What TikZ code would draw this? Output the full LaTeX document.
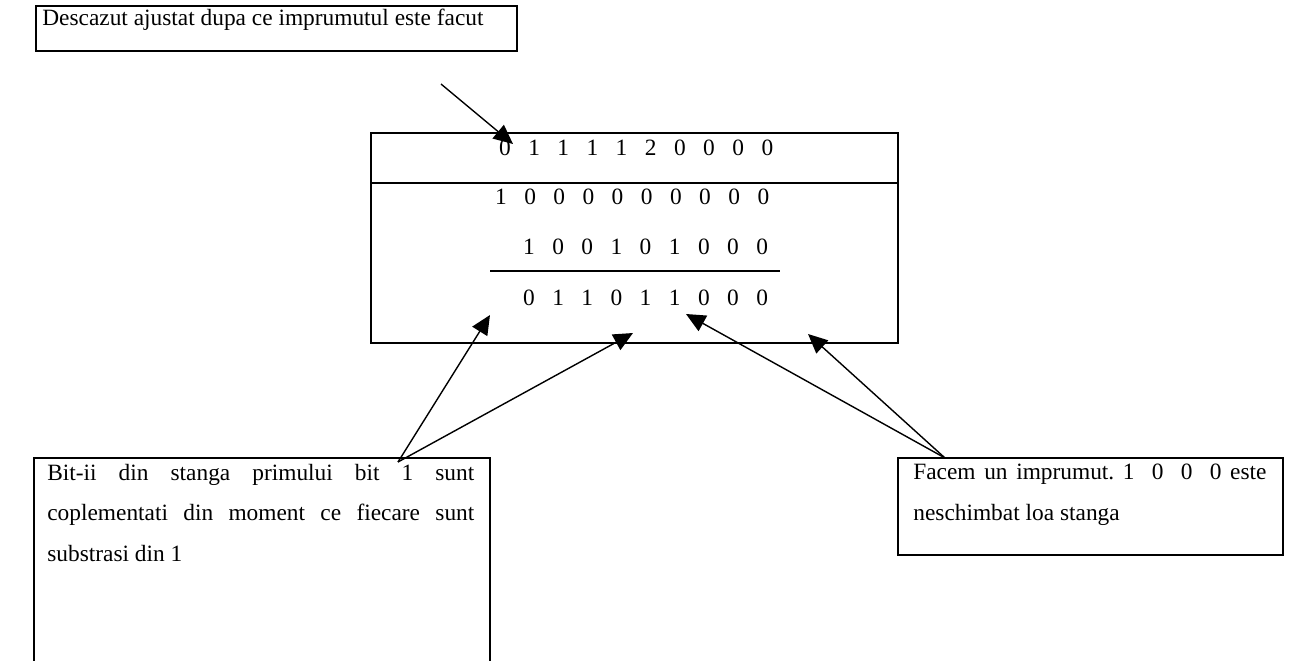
\documentclass[tikz,border=0pt]{standalone}
\usepackage{fontspec}
\setmainfont{Liberation Serif}
\usetikzlibrary{arrows.meta,fit}
\newcommand\dg[1]{\makebox[16.6pt]{#1}}
\begin{document}
\begin{tikzpicture}[x=0.02cm,y=-0.02cm,
  box/.style={draw,line width=1.1pt,inner sep=0pt},
  lbl/.style={inner sep=0pt,font=\fontsize{13.3}{23}\selectfont\frenchspacing},
  arr/.style={line width=0.8pt,-{Triangle[length=11pt,width=10pt]}}]
\useasboundingbox (0,0) rectangle (1291,660);
% boxes
\node[box,fit={(36,6) (517,51)}] (top) {};
\node[box,fit={(371,133) (898,343)}] (main) {};
\node[box,fit={(34,458) (490,668)}] (lbox) {};
\node[box,fit={(898,458) (1283,555)}] (rbox) {};
\draw[line width=1.1pt] (main.west |- 0,183) coordinate (dl) -- (main.east |- 0,183) coordinate (dr);
% texts
\node[lbl,anchor=base west] (ttext) at (42,25) {Descazut ajustat dupa ce imprumutul este facut};
\node[lbl,anchor=base west] (r1) at (490,155) {\dg0\dg1\dg1\dg1\dg1\dg2\dg0\dg0\dg0\dg0};
\node[lbl,anchor=base west] (r2) at (486,204) {\dg1\dg0\dg0\dg0\dg0\dg0\dg0\dg0\dg0\dg0};
\node[lbl,anchor=base west] (r3) at (514,254) {\dg1\dg0\dg0\dg1\dg0\dg1\dg0\dg0\dg0};
\node[lbl,anchor=base west] (r4) at (514,305) {\dg0\dg1\dg1\dg0\dg1\dg1\dg0\dg0\dg0};
\coordinate (u1) at (490,271);
\coordinate (u2) at (780,271);
\draw[line width=0.8pt] (u1) -- (u2);
\node[lbl,anchor=north west,text width=243pt,align=justify] (ltext) at (47,464)
  {Bit-ii din stanga primului bit 1 sunt\linebreak coplementati din moment ce fiecare sunt\linebreak substrasi din 1};
\node[lbl,anchor=north west,text width=201pt,align=justify] (rtext) at (913,464)
  {Facem un imprumut. 1~~0~~0~~0 este\linebreak neschimbat loa stanga};
% arrows
\coordinate (a0) at (441,84);
\coordinate (a0t) at (513,144);
\coordinate (ls) at (398,462);
\coordinate (t1) at (490,315);
\coordinate (t2) at (633,333);
\coordinate (rs) at (945,458);
\coordinate (t3) at (686,314);
\coordinate (t4) at (808,334);
\draw[arr] (a0) -- (a0t);
\draw[arr] (ls) -- (t1);
\draw[arr] (ls) -- (t2);
\draw[arr] (rs) -- (t3);
\draw[arr] (rs) -- (t4);
\end{tikzpicture}
\end{document}
